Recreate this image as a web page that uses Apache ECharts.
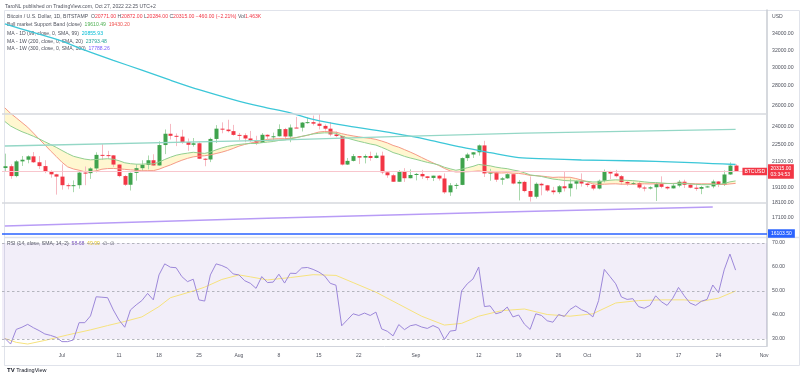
<!DOCTYPE html>
<html><head><meta charset="utf-8">
<script src="https://cdn.jsdelivr.net/npm/echarts@6/dist/echarts.min.js"></script>
<style>html,body{margin:0;padding:0;background:#fff}#c{width:800px;height:378px}</style>
</head><body><div id="c"></div>
<script>
// ---------- categories (daily, Jun 21 – Nov 1 2022) ----------
const cats = [];
for (let t = Date.UTC(2022,5,21); t <= Date.UTC(2022,10,1); t += 86400000) cats.push(new Date(t).toISOString().slice(0,10));
const xTickDates  = ['2022-07-01','2022-07-11','2022-07-18','2022-07-25','2022-08-01','2022-08-08','2022-08-15','2022-08-22','2022-09-01','2022-09-12','2022-09-19','2022-09-26','2022-10-01','2022-10-10','2022-10-17','2022-10-24','2022-11-01'];
const xTickLabels = ['Jul','11','18','25','Aug','8','15','22','Sep','12','19','26','Oct','10','17','24','Nov'];
const priceTicks = [17100,18100,19100,21100,22500,24000,26000,28000,30000,32000,34000];
const rsiTicks = [30,40,50,60,70];

// ---------- daily OHLC, Jun 21 .. Oct 27 ----------
const open  = [20580,20720,19970,21100,21230,21500,21030,20730,20280,20100,19930,19300,19240,19300,20230,20190,20550,21620,21600,21580,20850,19970,19330,20210,20570,20830,21190,20780,22430,23400,23220,23150,22680,22450,22580,21310,21250,22950,23850,23770,23630,23300,23270,22990,22820,22620,23310,23170,23180,23810,23160,23950,23940,24400,24440,24300,24100,23850,23340,23200,20850,21140,21520,21400,21530,21370,21560,20250,20030,19550,20280,19810,20050,20130,19950,19830,20000,19790,18790,19290,19320,21360,21650,21830,22400,20170,20230,19700,19800,20110,19420,19540,18880,18480,19400,19290,18920,18800,19220,19080,19410,19590,19420,19310,19060,19620,20340,20160,19960,19530,19420,19450,19130,19060,19150,19380,19180,19070,19270,19550,19330,19120,19040,19170,19210,19570,19330,20090,20771];
const high  = [21720,20870,21200,21530,21580,21850,21520,21190,20400,20140,20870,19430,19650,20330,20700,20640,21830,22500,21950,21600,20860,20050,20240,20870,21190,21570,21670,22750,23780,24280,23430,23750,22990,23030,22660,21350,23060,24170,24420,24660,24190,23470,23440,23650,23220,23460,23350,23500,24240,23920,24230,24920,24450,24880,25050,25200,24240,24450,23600,23200,21370,21690,21520,21660,21880,21800,21880,20340,20140,20420,20570,20480,20200,20440,19960,20000,20040,20170,19460,19450,21420,21790,21850,22480,22790,20520,20330,19900,20180,20110,19680,19620,19940,19500,19480,19320,19180,19310,20350,19780,19640,20170,19480,19400,19710,20470,20370,20440,20050,19600,19550,19530,19260,19220,19510,19950,19220,19420,19680,19700,19360,19340,19250,19250,19700,19600,20400,21020,20872];
const low   = [20350,19770,19880,20740,20950,20980,20510,20190,19850,18630,18980,19000,18800,19050,19300,19760,20250,21210,21320,20660,19880,19240,18920,19630,20380,20480,20760,20770,21680,22900,22340,22540,21950,22300,21280,20720,21040,22600,23440,23520,23230,22850,22670,22700,22430,22600,22950,22860,23160,22880,22670,23900,23600,24300,24140,23780,23680,23180,23100,20780,20820,21090,20890,20940,21150,21340,20110,19840,19550,19550,19540,19800,19650,19750,19660,19600,19640,18680,18540,19030,19300,21130,21370,21560,19900,19620,19540,19330,19770,19360,18230,18790,18150,18360,18580,18820,18640,18680,18850,18500,19000,19200,19160,18930,19000,19500,19740,19870,19330,19260,19320,19030,18860,18990,18190,19080,18980,19060,19150,19100,19080,18900,18660,19130,19080,19160,19240,20060,20284];
const close = [20720,19970,21100,21230,21500,21030,20730,20280,20100,19930,19300,19240,19300,20230,20190,20550,21620,21590,21580,20850,19970,19330,20210,20570,20830,21190,20780,22430,23400,23220,23150,22680,22450,22580,21310,21250,22950,23850,23770,23630,23300,23270,22990,22820,22620,23310,23170,23180,23810,23160,23950,23940,24400,24440,24300,24100,23850,23340,23200,20850,21140,21520,21400,21530,21370,21560,20250,20030,19550,20280,19810,20050,20130,19950,19830,20000,19790,18790,19290,19320,21360,21650,21830,22400,20170,20230,19700,19800,20110,19420,19540,18880,18480,19400,19290,18920,18800,19220,19080,19410,19590,19420,19310,19060,19620,20340,20160,19960,19530,19420,19450,19130,19060,19150,19380,19180,19070,19270,19550,19330,19120,19040,19170,19210,19570,19330,20090,20770,20315];

// ---------- Bull market support band (daily) ----------
const bandSma = [25780,25260,24830,24400,23980,23460,22940,22450,21950,21490,21030,20670,20510,20410,20290,20300,20360,20490,20540,20550,20520,20480,20440,20410,20370,20380,20380,20490,20660,20820,21010,21190,21340,21460,21520,21550,21620,21730,21840,21980,22150,22340,22480,22600,22690,22790,22910,22950,22970,22970,23010,23070,23170,23260,23410,23550,23600,23570,23540,23410,23300,23210,23130,23060,23000,22910,22770,22610,22400,22250,22050,21850,21640,21410,21190,20980,20780,20550,20360,20280,20290,20300,20320,20360,20300,20240,20210,20200,20220,20180,20170,20110,20020,20000,19970,19920,19870,19890,19880,19880,19790,19680,19550,19390,19360,19370,19390,19400,19370,19370,19360,19380,19400,19390,19400,19410,19420,19430,19450,19450,19420,19400,19400,19400,19400,19350,19350,19390,19430];
const bandEma = [24500,24090,23820,23580,23390,23180,22960,22710,22480,22240,21980,21730,21510,21390,21280,21220,21250,21280,21310,21270,21150,20990,20920,20880,20880,20910,20900,21040,21250,21430,21590,21690,21760,21830,21780,21740,21850,22030,22190,22320,22410,22480,22530,22560,22560,22630,22680,22730,22820,22860,22960,23050,23170,23280,23380,23440,23480,23470,23440,23210,23020,22880,22750,22640,22520,22430,22240,22040,21810,21670,21500,21370,21260,21140,21020,20930,20820,20640,20520,20410,20490,20600,20710,20860,20800,20750,20650,20580,20530,20430,20350,20220,20060,20000,19940,19840,19750,19700,19640,19620,19620,19600,19580,19530,19540,19610,19660,19690,19670,19650,19630,19590,19540,19500,19490,19460,19430,19410,19430,19420,19390,19360,19340,19330,19350,19350,19420,19540,19610];

// ---------- moving averages (read at sample dates) ----------
const ma99Dates = ['2022-06-21','2022-06-26','2022-07-01','2022-07-05','2022-07-10','2022-07-15','2022-07-20','2022-07-25','2022-07-31','2022-08-05','2022-08-10','2022-08-14','2022-08-20','2022-08-28','2022-09-03','2022-09-09','2022-09-14','2022-09-19','2022-09-24','2022-09-30','2022-10-08','2022-10-13','2022-10-18','2022-10-23','2022-10-27'];
const ma99Vals  = [35300,34200,33100,32000,30800,29700,28600,27600,26600,25900,25300,24700,24100,23450,22900,22250,21800,21390,21300,21210,21150,21100,21020,20930,20856];
const ma200wDates = ['2022-06-21','2022-08-06','2022-08-28','2022-09-20','2022-10-27'];
const ma200wVals  = [22350,22820,23150,23450,23793];
const ma300wDates = ['2022-06-21','2022-08-06','2022-09-20','2022-10-23'];
const ma300wVals  = [16560,17050,17480,17788];

// ---------- horizontal levels ----------
const levelGrayHigh = 25250, levelGrayLow = 18100, lastPrice = 20315, levelBlue = 16103.5;

// ---------- RSI ----------
const rsiVals = [30.3,27.9,34.0,34.9,36.1,34.7,33.5,32.1,31.5,30.7,28.9,28.9,29.6,36.8,36.8,39.6,47.6,47.4,47.2,42.1,37.9,34.9,42.1,44.2,46.0,49.0,46.3,56.7,61.3,59.9,59.7,56.0,53.9,54.9,46.3,45.8,56.7,61.3,60.6,59.5,57.1,56.7,54.3,53.2,51.1,56.0,53.5,53.7,57.0,53.3,57.4,57.3,59.6,59.8,59.0,57.9,56.3,53.2,52.4,35.5,38.0,40.5,39.8,40.8,39.8,41.2,34.2,33.2,31.3,36.0,33.9,35.5,36.0,35.0,34.4,35.6,34.5,29.8,33.3,33.6,50.0,53.0,55.0,60.0,43.5,43.8,40.5,41.2,43.3,39.2,40.0,36.2,34.0,40.5,39.8,37.6,37.0,40.2,39.4,42.3,43.8,42.2,41.2,39.2,46.0,59.0,56.0,53.0,47.5,46.5,46.8,43.5,42.8,44.0,48.0,45.5,44.0,47.0,51.5,48.0,45.0,44.0,45.7,46.5,52.5,49.3,58.8,65.4,58.7];
const rsiMaDates = ['2022-06-21','2022-06-23','2022-06-25','2022-06-28','2022-07-02','2022-07-06','2022-07-09','2022-07-12','2022-07-15','2022-07-18','2022-07-20','2022-07-24','2022-07-26','2022-07-29','2022-08-01','2022-08-03','2022-08-06','2022-08-10','2022-08-14','2022-08-18','2022-08-21','2022-08-25','2022-08-29','2022-09-02','2022-09-06','2022-09-09','2022-09-12','2022-09-16','2022-09-20','2022-09-24','2022-09-28','2022-10-02','2022-10-06','2022-10-10','2022-10-14','2022-10-18','2022-10-21','2022-10-24','2022-10-27'];
const rsiMaVals  = [30.2,28.6,27.9,29.4,31.7,33.8,35.6,37.3,39.2,43.5,47.2,50.0,51.6,54.8,56.7,55.9,54.6,55.6,56.8,56.5,53.5,49.5,44.5,39.5,35.8,36.5,39.5,41.8,42.5,40.2,39.5,40.5,45.0,46.0,46.3,46.3,45.7,47.0,50.0];

// ---------- helpers ----------
const ix = d => cats.indexOf(d);
const pairs = (ds, vs) => ds.map((d, k) => [ix(d), vs[k]]);
const FONT = '"Liberation Sans", Arial, sans-serif';
const UP = '#3fa34d', DOWN = '#f23645', WICK_UP = '#a9d8ad', WICK_DOWN = '#f6b9c2';
const labelMap = {}; xTickDates.forEach((d, k) => labelMap[d] = xTickLabels[k]);

function renderCandle(params, api) {
  const i = api.value(0), o = api.value(1), c = api.value(2), l = api.value(3), h = api.value(4);
  const po = api.coord([i, o]), pc = api.coord([i, c]), pl = api.coord([i, l]), ph = api.coord([i, h]);
  const bw = params.coordSys.width / cats.length * 0.7;
  const up = c >= o;
  const x = Math.round(po[0]) + 0.5;
  const top = Math.min(po[1], pc[1]), bot = Math.max(po[1], pc[1]);
  return { type: 'group', children: [
    { type: 'line', shape: { x1: x, y1: ph[1], x2: x, y2: pl[1] }, style: { stroke: up ? WICK_UP : WICK_DOWN, lineWidth: 1 } },
    { type: 'rect', shape: { x: x - bw / 2, y: top, width: bw, height: Math.max(1, bot - top) }, style: { fill: up ? UP : DOWN } }
  ]};
}
function renderBand(params, api) {
  const pts = [];
  for (let i = 0; i < bandSma.length; i++) pts.push(api.coord([i, bandSma[i]]));
  for (let i = bandEma.length - 1; i >= 0; i--) pts.push(api.coord([i, bandEma[i]]));
  return { type: 'polygon', shape: { points: pts }, style: { fill: 'rgba(255,238,150,0.45)' } };
}

const noLine = { show: false };
const tagLabel = (txt, bg, pos, pad) => ({ show: true, position: pos, distance: pos === 'end' ? 1 : 0, formatter: txt, backgroundColor: bg, color: '#fff', fontSize: 5, lineHeight: 6, padding: pad, fontFamily: FONT });

const option = {
  animation: false,
  backgroundColor: '#ffffff',
  grid: [
    { left: 2, right: 33, top: 10, height: 227 },
    { left: 2, right: 33, top: 238, height: 108 }
  ],
  xAxis: [
    { type: 'category', gridIndex: 0, data: cats, axisLine: noLine, axisTick: noLine, axisLabel: noLine, splitLine: noLine },
    { type: 'category', gridIndex: 1, data: cats, axisLine: { lineStyle: { color: '#d1d4dc', width: 1 } }, axisTick: noLine, splitLine: noLine,
      axisLabel: { interval: (i, v) => labelMap[v] !== undefined, formatter: v => labelMap[v] || '', margin: 7, fontSize: 5, color: '#50535e', fontFamily: FONT } }
  ],
  yAxis: [
    { type: 'log', gridIndex: 0, position: 'right', min: 15895, max: 37198,
      axisLine: { show: true, lineStyle: { color: '#c9ccd3', width: 1.5 } }, axisTick: noLine, splitLine: noLine,
      axisLabel: { customValues: priceTicks, formatter: v => Number(v).toFixed(2), margin: 5, fontSize: 5.2, color: '#50535e', fontFamily: FONT } },
    { type: 'value', gridIndex: 1, position: 'right', min: 27.08, max: 72.08,
      axisLine: { show: true, lineStyle: { color: '#c9ccd3', width: 1.5 } }, axisTick: noLine, splitLine: noLine,
      axisLabel: { customValues: rsiTicks, formatter: v => Number(v).toFixed(2), margin: 5, fontSize: 5.2, color: '#50535e', fontFamily: FONT } }
  ],
  series: [
    { type: 'custom', name: 'band fill', xAxisIndex: 0, yAxisIndex: 0, renderItem: renderBand, data: [[0, bandSma[0]]], encode: { x: 0, y: 1 }, clip: true, silent: true, z: 1 },
    { type: 'line', name: 'levels', xAxisIndex: 0, yAxisIndex: 0, data: [], z: 5,
      markLine: { silent: true, symbol: 'none', animation: false,
        data: [
          { yAxis: levelGrayHigh, lineStyle: { color: '#d6d8de', width: 1.5, type: 'solid' }, label: { show: false } },
          { yAxis: levelGrayLow, lineStyle: { color: '#d6d8de', width: 1.5, type: 'solid' }, label: { show: false } },
          { yAxis: lastPrice, lineStyle: { color: '#f8c6cd', width: 1, type: 'solid' }, label: tagLabel('20315.00\n03:34:53', '#f23645', 'end', [1.5, 2.5, 1, 2.5]) },
          { yAxis: lastPrice, lineStyle: { color: 'rgba(0,0,0,0)', width: 0.1 }, label: tagLabel('BTCUSD', '#f23645', 'insideEnd', [1, 2, 0.5, 2]) },
          { yAxis: levelBlue, lineStyle: { color: '#2962ff', width: 1.5, type: 'solid' }, label: tagLabel('16103.50', '#2962ff', 'end', [1.5, 3, 1, 3]) }
        ] } },
    { type: 'custom', name: 'BTCUSD', xAxisIndex: 0, yAxisIndex: 0, renderItem: renderCandle,
      data: open.map((o, i) => [i, o, close[i], low[i], high[i]]), encode: { x: 0, y: [1, 2, 3, 4] }, clip: true, z: 3 },
    { type: 'line', name: 'BMSB SMA', xAxisIndex: 0, yAxisIndex: 0, data: bandSma, symbol: 'none', lineStyle: { color: '#f59a87', width: 1 }, z: 4 },
    { type: 'line', name: 'BMSB EMA', xAxisIndex: 0, yAxisIndex: 0, data: bandEma, symbol: 'none', lineStyle: { color: '#92cf90', width: 1 }, z: 4 },
    { type: 'line', name: 'MA 1D 99', xAxisIndex: 0, yAxisIndex: 0, data: pairs(ma99Dates, ma99Vals), symbol: 'none', smooth: 0.3, lineStyle: { color: '#3cc7d8', width: 1.3 }, z: 4 },
    { type: 'line', name: 'MA 1W 200', xAxisIndex: 0, yAxisIndex: 0, data: pairs(ma200wDates, ma200wVals), symbol: 'none', lineStyle: { color: '#94d7c6', width: 1.3 }, z: 4 },
    { type: 'line', name: 'MA 1W 300', xAxisIndex: 0, yAxisIndex: 0, data: pairs(ma300wDates, ma300wVals), symbol: 'none', lineStyle: { color: '#b89cf6', width: 1.5 }, z: 4 },
    { type: 'line', name: 'RSI', xAxisIndex: 1, yAxisIndex: 1, data: rsiVals, symbol: 'none', lineStyle: { color: '#9c87d9', width: 1 }, z: 4,
      markArea: { silent: true, itemStyle: { color: 'rgba(126,87,194,0.1)' }, data: [[{ yAxis: 70 }, { yAxis: 30 }]] },
      markLine: { silent: true, symbol: 'none', label: { show: false }, lineStyle: { color: '#a3a6af', width: 0.8, type: [2.5, 2.5] },
        data: [{ yAxis: 70 }, { yAxis: 50 }, { yAxis: 30 }] } },
    { type: 'line', name: 'RSI MA', xAxisIndex: 1, yAxisIndex: 1, data: pairs(rsiMaDates, rsiMaVals), symbol: 'none', lineStyle: { color: '#f6e27d', width: 1 }, z: 3 }
  ],
  graphic: [
    { type: 'rect', shape: { x: 4.5, y: 10.5, width: 795, height: 355 }, style: { fill: 'none', stroke: '#e0e3eb', lineWidth: 1 }, silent: true, z: 0 },
    { type: 'line', shape: { x1: 4, y1: 237.5, x2: 800, y2: 237.5 }, style: { stroke: '#e0e3eb', lineWidth: 1.5 }, silent: true },
    { type: 'text', x: 5, y: 6.5, style: { text: 'TaroNL published on TradingView.com, Oct 27, 2022 22:25 UTC+2', font: '5.1px ' + FONT, fill: '#50535e', verticalAlign: 'middle' } },
    { type: 'text', x: 772, y: 17, style: { text: 'USD', font: '5.1px ' + FONT, fill: '#50535e', verticalAlign: 'middle' } },
    { type: 'text', x: 7, y: 16.5, style: { text: 'Bitcoin / U.S. Dollar, 1D, BITSTAMP  O{r|20771.00} H{r|20872.00} L{r|20284.00} C{r|20315.00} {r|\u2212460.00 (\u22122.21%)} Vol{r|1.463K}',
      font: '5.1px ' + FONT, fill: '#50535e', verticalAlign: 'middle', rich: { r: { fill: '#f23645', font: '5.1px ' + FONT } } } },
    { type: 'text', x: 7, y: 25, style: { text: 'Bull market Support Band (close)  {g|19610.49}  {r|19430.20}',
      font: '5.1px ' + FONT, fill: '#50535e', verticalAlign: 'middle', rich: { g: { fill: '#4caf50', font: '5.1px ' + FONT }, r: { fill: '#ef5350', font: '5.1px ' + FONT } } } },
    { type: 'text', x: 7, y: 33.5, style: { text: 'MA - 1D (99, close, 0, SMA, 99)  {c|20855.93}',
      font: '5.1px ' + FONT, fill: '#50535e', verticalAlign: 'middle', rich: { c: { fill: '#00bcd4', font: '5.1px ' + FONT } } } },
    { type: 'text', x: 7, y: 41.5, style: { text: 'MA - 1W (200, close, 0, SMA, 20)  {t|23793.48}',
      font: '5.1px ' + FONT, fill: '#50535e', verticalAlign: 'middle', rich: { t: { fill: '#26a69a', font: '5.1px ' + FONT } } } },
    { type: 'text', x: 7, y: 49, style: { text: 'MA - 1W (300, close, 0, SMA, 100)  {p|17788.26}',
      font: '5.1px ' + FONT, fill: '#50535e', verticalAlign: 'middle', rich: { p: { fill: '#7b61ff', font: '5.1px ' + FONT } } } },
    { type: 'text', x: 7, y: 243.5, style: { text: 'RSI (14, close, SMA, 14, 2)  {p|58.68}  {y|49.99}  \u2205  \u2205',
      font: '5.1px ' + FONT, fill: '#50535e', verticalAlign: 'middle', rich: { p: { fill: '#7e57c2', font: '5.1px ' + FONT }, y: { fill: '#e3c51f', font: '5.1px ' + FONT } } } },
    { type: 'text', x: 7, y: 370.5, style: { text: '{b|TV} TradingView', font: '5.5px ' + FONT, fill: '#131722', verticalAlign: 'middle', rich: { b: { font: 'bold 6px ' + FONT, fill: '#131722' } } } }
  ]
};
const chart = echarts.init(document.getElementById('c'), null, { renderer: 'canvas' });
chart.setOption(option);
</script></body></html>
